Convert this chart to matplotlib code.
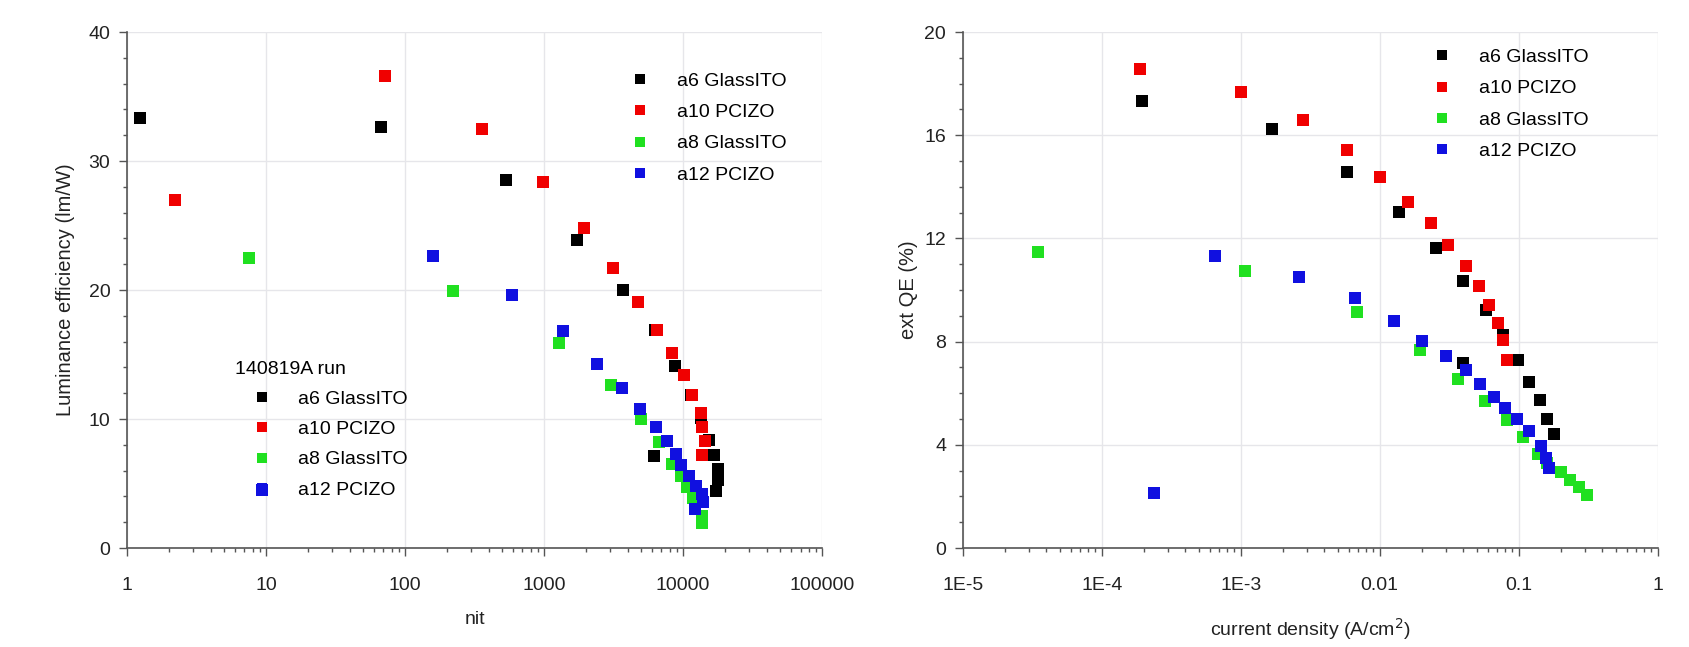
import numpy as np
import matplotlib
matplotlib.use("Agg")
import matplotlib.pyplot as plt
import matplotlib.ticker as mticker

plt.rcParams["font.family"] = ["Liberation Sans", "DejaVu Sans"]

# ---- left panel: luminance efficiency vs nit ----
lum_a6_x = [1.25, 67, 530, 1730, 3700, 6150, 6300, 8750, 11500, 13400, 15400, 16800, 17700, 17800, 17400]
lum_a6_y = [33.3, 32.6, 28.5, 23.9, 20.0, 7.1, 16.9, 14.1, 11.9, 10.1, 8.4, 7.2, 6.1, 5.3, 4.4]
lum_a10_x = [2.2, 72, 360, 980, 1950, 3150, 4750, 6500, 8300, 10200, 11600, 13400, 13800, 14300, 13800]
lum_a10_y = [27.0, 36.6, 32.5, 28.4, 24.8, 21.7, 19.1, 16.9, 15.1, 13.4, 11.9, 10.5, 9.4, 8.3, 7.2]
lum_a8_x = [7.5, 220, 1280, 3050, 5000, 6700, 8300, 9700, 10700, 11700, 13600, 13600]
lum_a8_y = [22.5, 19.9, 15.9, 12.6, 10.0, 8.2, 6.5, 5.6, 4.7, 3.9, 2.5, 1.95]
lum_a12_x = [9.3, 158, 590, 1370, 2400, 3630, 4930, 6340, 7700, 8850, 9700, 11000, 12350, 13800, 13900, 12150]
lum_a12_y = [4.5, 22.6, 19.6, 16.8, 14.3, 12.4, 10.8, 9.4, 8.3, 7.3, 6.4, 5.6, 4.8, 4.2, 3.6, 3.0]

# ---- right panel: ext QE vs current density ----
qe_a6_x = [1.94e-4, 1.67e-3, 5.86e-3, 0.0138, 0.0255, 0.0396, 0.0577, 0.0767, 0.0995, 0.0396, 0.119, 0.143, 0.16, 0.18]
qe_a6_y = [17.33, 16.23, 14.58, 13.04, 11.64, 10.35, 9.21, 8.26, 7.29, 7.16, 6.44, 5.73, 5.0, 4.4]
qe_a10_x = [1.88e-4, 1.0e-3, 2.79e-3, 5.77e-3, 0.0100, 0.0160, 0.0232, 0.0309, 0.0419, 0.0514, 0.0616, 0.0706, 0.0767, 0.0819]
qe_a10_y = [18.57, 17.66, 16.58, 15.42, 14.38, 13.43, 12.59, 11.74, 10.92, 10.16, 9.40, 8.73, 8.06, 7.29]
qe_a8_x = [3.47e-5, 1.08e-3, 6.81e-3, 0.0194, 0.0365, 0.0576, 0.0824, 0.108, 0.138, 0.16, 0.2, 0.235, 0.27, 0.31]
qe_a8_y = [11.48, 10.73, 9.14, 7.68, 6.57, 5.69, 4.95, 4.32, 3.65, 3.3, 2.95, 2.65, 2.35, 2.05]
qe_a12_x = [2.37e-4, 6.58e-4, 2.62e-3, 6.62e-3, 0.0126, 0.0202, 0.0298, 0.0419, 0.0527, 0.0669, 0.0797, 0.0973, 0.119, 0.145, 0.157, 0.165]
qe_a12_y = [2.13, 11.33, 10.51, 9.69, 8.78, 8.04, 7.44, 6.9, 6.34, 5.86, 5.43, 4.99, 4.52, 3.97, 3.5, 3.1]

labels = ["a6 GlassITO", "a10 PCIZO", "a8 GlassITO", "a12 PCIZO"]
colors = ["#000000", "#f00000", "#20e020", "#1010e0"]

fig = plt.figure(figsize=(16.89, 6.47), dpi=100)
ax1 = fig.add_axes([0.0752, 0.153, 0.4115, 0.7975])
ax2 = fig.add_axes([0.570, 0.153, 0.4115, 0.7975])

def style(ax, xlim, ylim, ymajor, yminor):
    ax.set_xscale("log")
    ax.set_xlim(*xlim)
    ax.set_ylim(*ylim)
    for s in ["top", "right"]:
        ax.spines[s].set_visible(False)
    for s in ["left", "bottom"]:
        ax.spines[s].set_color("#555555")
        ax.spines[s].set_linewidth(1.2)
    ax.yaxis.set_major_locator(mticker.MultipleLocator(ymajor))
    ax.yaxis.set_minor_locator(mticker.MultipleLocator(yminor))
    ax.xaxis.set_major_locator(mticker.LogLocator(base=10, numticks=10))
    ax.xaxis.set_minor_locator(mticker.LogLocator(base=10, subs=np.arange(2, 10), numticks=20))
    ax.xaxis.set_minor_formatter(mticker.NullFormatter())
    ax.tick_params(which="major", direction="out", length=6, width=1, color="#555555",
                   labelsize=14, labelcolor="#222222", pad=6)
    ax.tick_params(axis="x", which="major", pad=15)
    ax.tick_params(which="minor", direction="out", length=3, width=1, color="#555555")
    ax.grid(True, which="major", color="#e6e6ea", linewidth=1)
    ax.set_axisbelow(True)
    ax.yaxis.set_label_coords(-0.075, 0.455)

def scat(ax, xs, ys):
    hs = []
    for x, y, c, lab in zip(xs, ys, colors, labels):
        h, = ax.plot(x, y, "s", color=c, markersize=8.5, markeredgewidth=0, label=lab, linestyle="none")
        hs.append(h)
    return hs

h1 = scat(ax1, [lum_a6_x, lum_a10_x, lum_a8_x, lum_a12_x], [lum_a6_y, lum_a10_y, lum_a8_y, lum_a12_y])
style(ax1, (1, 1e5), (0, 40), 10, 2)
ax1.xaxis.set_major_formatter(mticker.FuncFormatter(lambda v, p: f"{v:.0f}"))
ax1.set_xlabel("nit", fontsize=14, color="#222222", labelpad=12)
ax1.set_ylabel("Luminance efficiency (lm/W)", fontsize=14.5, color="#222222")

leg_a = ax1.legend(handles=h1, loc="upper left", bbox_to_anchor=(0.724, 0.922), frameon=False,
                   fontsize=14, handlelength=1.0, handletextpad=1.4, labelspacing=0.7,
                   borderpad=0, borderaxespad=0, markerscale=0.9)
ax1.add_artist(leg_a)
ax1.legend(handles=h1, loc="upper left", bbox_to_anchor=(0.155, 0.363), frameon=False,
           fontsize=14, title="140819A run", title_fontsize=14, alignment="left",
           handlelength=2.8, handletextpad=0.45, labelspacing=0.65,
           borderpad=0, borderaxespad=0, markerscale=0.8)

h2 = scat(ax2, [qe_a6_x, qe_a10_x, qe_a8_x, qe_a12_x], [qe_a6_y, qe_a10_y, qe_a8_y, qe_a12_y])
style(ax2, (1e-5, 1), (0, 20), 4, 1)
ax2.yaxis.set_label_coords(-0.065, 0.45)

def qe_fmt(v, p):
    if v >= 0.01:
        return f"{v:g}"
    return f"1E{int(round(np.log10(v)))}"

ax2.xaxis.set_major_formatter(mticker.FuncFormatter(qe_fmt))
ax2.set_xlabel("current density (A/cm$^2$)", fontsize=14, color="#222222", labelpad=16)
ax2.set_ylabel("ext QE (%)", fontsize=14.5, color="#222222")
ax2.legend(handles=h2, loc="upper left", bbox_to_anchor=(0.675, 0.968), frameon=False,
           fontsize=14, handlelength=1.0, handletextpad=1.4, labelspacing=0.7,
           borderpad=0, borderaxespad=0, markerscale=0.9)

fig.savefig("out.png", dpi=100)
